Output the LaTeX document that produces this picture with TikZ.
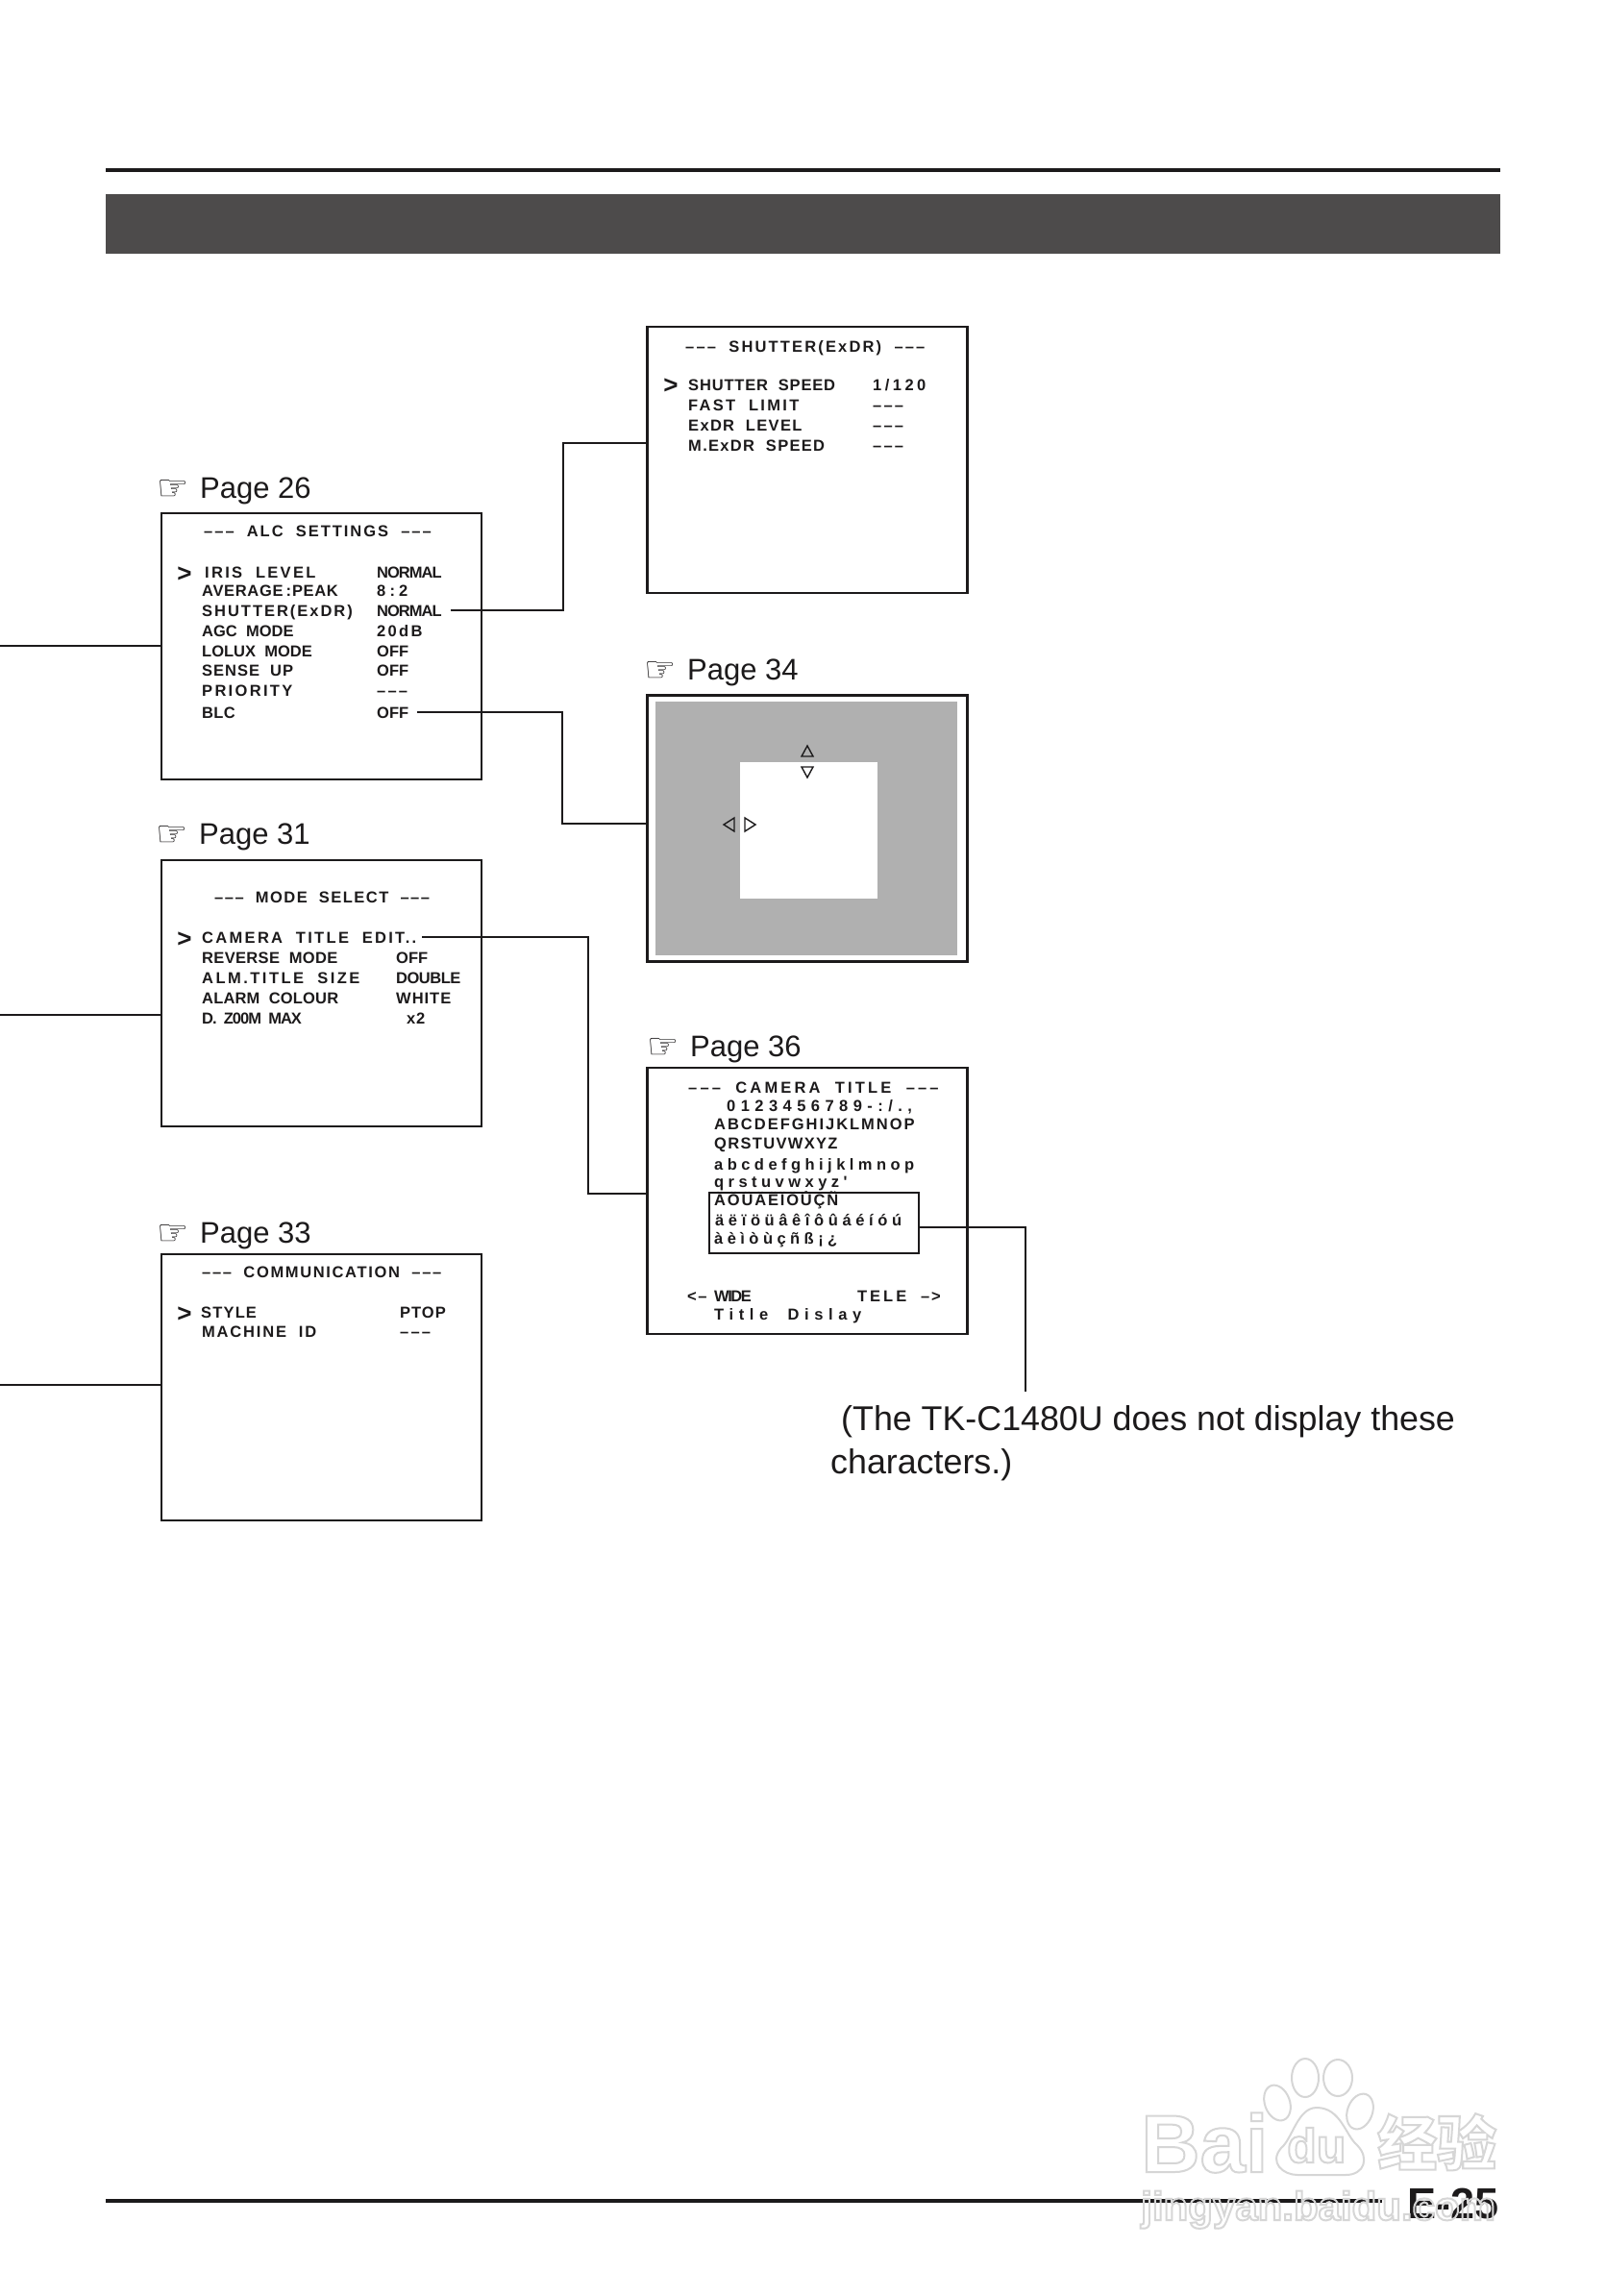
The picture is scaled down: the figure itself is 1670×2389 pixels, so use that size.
\documentclass[tikz,border=0pt]{standalone}
\usepackage{fontspec}
\usepackage{xcolor}
\usetikzlibrary{positioning}
\setmainfont{Liberation Sans}
\newfontfamily\menufont[WordSpace=2,LetterSpace=13]{Liberation Sans Bold}
\newfontfamily\handfont{DejaVu Sans}
\newfontfamily\cjkfont{Noto Sans CJK SC}
\definecolor{cBand}{RGB}{77,75,75}
\definecolor{cRule}{RGB}{28,26,27}
\definecolor{cPanel}{RGB}{176,176,176}
\definecolor{cMark}{RGB}{214,214,214}
\newcommand{\outlined}[1]{\special{pdf:code 1 Tr 2 w}#1\special{pdf:code 0 Tr}}
\tikzset{
  screenbox/.style={rectangle, draw=cRule, line width=2.2pt, inner sep=0pt,
                    minimum width=333pt, minimum height=277pt},
  wire/.style={draw=cRule, line width=1.7pt},
  tribox/.style={draw=cRule, line width=1.4pt, line join=miter},
  row/.style={anchor=base west, inner sep=0pt, text height=12pt, text depth=0pt,
              text=cRule, font=\fontsize{16.5}{18}\menufont\addfontfeature{LetterSpace=#1}},
  row/.default=13,
  cursor/.style={anchor=base, inner sep=0pt, text=cRule,
                 font=\fontsize{26}{28}\menufont},
  pagelabel/.style={anchor=base west, inner sep=0pt, text=cRule,
                    font=\fontsize{31}{34}\selectfont},
  handicon/.style={anchor=base west, inner sep=0pt, text=cRule,
                   font=\fontsize{37}{39}\handfont},
  notetext/.style={anchor=base west, inner sep=0pt, text=cRule,
                   font=\fontsize{35.8}{40}\selectfont},
  marktext/.style={anchor=base west, inner sep=0pt, text=cMark},
  markline/.style={draw=cMark, line width=2pt}
}
\begin{document}
\begin{tikzpicture}[x=1pt,y=-1pt]
  \useasboundingbox (0,0) rectangle (1670,2389);
  \fill[white] (0,0) rectangle (1670,2389);

  % Page header and footer
  \fill[cRule] (110,175) rectangle (1561,179);
  \fill[cBand] (110,202) rectangle (1561,264);
  \fill[cRule] (110,2288) rectangle (1438,2292);
  \node[anchor=base west, inner sep=0pt, text=cRule,
        font=\fontsize{45}{48}\bfseries] (pagenum) at (1464,2308) {E-25};

  % Screens
  \node[screenbox] (alc) at (334.5,672.5) {};
  \node[screenbox] (mode) at (334.5,1033.5) {};
  \node[screenbox] (comm) at (334.5,1443.5) {};
  \node[screenbox] (shutter) at (840,478.5) {};
  \node[screenbox] (center) at (840,862) {};
  \node[screenbox] (title) at (840,1249.5) {};

  % Page labels
  \node[handicon] (handA) at (163,520) {☞};
  \node[pagelabel] (pageA) at (208,518) {Page 26};
  \node[handicon] (handB) at (162,880) {☞};
  \node[pagelabel] (pageB) at (207,878) {Page 31};
  \node[handicon] (handC) at (163,1295) {☞};
  \node[pagelabel] (pageC) at (208,1293) {Page 33};
  \node[handicon] (handD) at (670,709) {☞};
  \node[pagelabel] (pageD) at (715,707) {Page 34};
  \node[handicon] (handE) at (673,1101) {☞};
  \node[pagelabel] (pageE) at (718,1099) {Page 36};

  % ALC settings
  \node[row=12] (alcHead) at (212,558) {––– ALC SETTINGS –––};
  \node[cursor] (alcCur) at (192,605) {>};
  \node[row=14] (alcA) at (213,601) {IRIS LEVEL};
  \node[row=4] (alcB) at (210,620) {AVERAGE\kern3pt:\kern1pt PEAK};
  \node[row=12] (alcC) at (210,641) {SHUTTER(ExDR)};
  \node[row=0] (alcD) at (210,662) {AGC MODE};
  \node[row=0] (alcE) at (210,683) {LOLUX MODE};
  \node[row=6] (alcF) at (210,703) {SENSE UP};
  \node[row=14] (alcG) at (210,724) {PRIORITY};
  \node[row=2] (alcH) at (210,747) {BLC};
  \node[row=-6] (alcValA) at (392,601) {NORMAL};
  \node[row=25] (alcValB) at (392,620) {8:2};
  \node[row=-6] (alcValC) at (392,641) {NORMAL};
  \node[row=14] (alcValD) at (392,662) {20dB};
  \node[row=0] (alcValE) at (392,683) {OFF};
  \node[row=0] (alcValF) at (392,703) {OFF};
  \node[row] (alcValG) at (392,724) {–––};
  \node[row=0] (alcValH) at (392,747) {OFF};

  % Mode select
  \node[row=9] (modeHead) at (223,939) {––– MODE SELECT –––};
  \node[cursor] (modeCur) at (192,985) {>};
  \node[row=14] (modeA) at (210,981) {CAMERA TITLE EDIT..};
  \node[row=2] (modeB) at (210,1002) {REVERSE MODE};
  \node[row=15] (modeC) at (210,1023) {ALM.TITLE SIZE};
  \node[row=1] (modeD) at (210,1044) {ALARM COLOUR};
  \node[row=-6] (modeE) at (210,1065) {D. Z00M MAX};
  \node[row=0] (modeValB) at (412,1002) {OFF};
  \node[row=-3] (modeValC) at (412,1023) {DOUBLE};
  \node[row=6] (modeValD) at (412,1044) {WHITE};
  \node[row=5] (modeValE) at (423,1065) {x2};

  % Communication
  \node[row=10] (commHead) at (210,1329) {––– COMMUNICATION –––};
  \node[cursor] (commCur) at (192,1375) {>};
  \node[row=7] (commA) at (209,1371) {STYLE};
  \node[row=11] (commB) at (210,1391) {MACHINE ID};
  \node[row=6] (commValA) at (416,1371) {PTOP};
  \node[row] (commValB) at (416,1391) {–––};

  % Shutter
  \node[row=13] (shutHead) at (713,366) {––– SHUTTER(ExDR) –––};
  \node[cursor] (shutCur) at (698,409) {>};
  \node[row=5] (shutA) at (716,406) {SHUTTER SPEED};
  \node[row=14] (shutB) at (716,427) {FAST LIMIT};
  \node[row=8] (shutC) at (716,448) {ExDR LEVEL};
  \node[row=8] (shutD) at (716,469) {M.ExDR SPEED};
  \node[row=21] (shutValA) at (908,406) {1/120};
  \node[row] (shutValB) at (908,427) {–––};
  \node[row] (shutValC) at (908,448) {–––};
  \node[row] (shutValD) at (908,469) {–––};

  % Centre window
  \fill[cPanel] (682,730) rectangle (996,994);
  \fill[white] (770,793) rectangle (913,935);
  \draw[tribox] (834,787) -- (840,776) -- (846,787) -- cycle;
  \draw[tribox] (834,798) -- (840,809) -- (846,798) -- cycle;
  \draw[tribox] (764,851) -- (753,858) -- (764,865) -- cycle;
  \draw[tribox] (775,851) -- (786,858) -- (775,865) -- cycle;

  % Camera title
  \node[row=19] (titleHead) at (716,1137) {––– CAMERA TITLE –––};
  \node[row=33] (titleA) at (756,1156) {0123456789-:/.,};
  \node[row=12] (titleB) at (743,1175) {ABCDEFGHIJKLMNOP};
  \node[row=8] (titleC) at (743,1195) {QRSTUVWXYZ};
  \node[row=27] (titleD) at (743,1217) {abcdefghijklmnop};
  \node[row=27] (titleE) at (743,1235) {qrstuvwxyz'};
  \node[draw=cRule, line width=1.5pt, inner sep=0pt, minimum width=218pt,
        minimum height=63pt] (accents) at (847,1272.5) {};
  \node[row=11] (titleF) at (743,1254) {ÄÖÜÄËÏÖÛÇÑ};
  \node[row=28] (titleG) at (744,1275) {äëïöüâêîôûáéíóú};
  \node[row=27] (titleH) at (743,1294) {àèìòùçñß¡¿};
  \node[row=10] (titleI) at (715,1354) {<–};
  \node[row=-9] (titleM) at (743,1354) {WIDE};
  \node[row=18] (titleJ) at (892,1354) {TELE};
  \node[row=10] (titleK) at (958,1354) {–>};
  \node[row=34] (titleL) at (743,1373) {Title Dislay};

  % Note
  \node[notetext] (noteA) at (875,1488) {(The TK-C1480U does not display these};
  \node[notetext] (noteB) at (864,1533) {characters.)};

  % Connectors
  \coordinate (inA) at (0,672);
  \coordinate (inB) at (0,1056);
  \coordinate (inC) at (0,1441);
  \coordinate (jogA) at (586,461);
  \coordinate (jogB) at (585,857);
  \coordinate (jogC) at (612,1242);
  \coordinate (jogD) at (1067,1277);
  \coordinate (noteEnd) at (1067,1448);
  \draw[wire] (inA) -- (alc.west |- inA);
  \draw[wire] (inB) -- (mode.west |- inB);
  \draw[wire] (inC) -- (comm.west |- inC);
  \draw[wire] ([xshift=9pt]alcValC.east) -| (jogA) -- (shutter.west |- jogA);
  \draw[wire] ([xshift=9pt]alcValH.east) -| (jogB) -- (center.west |- jogB);
  \draw[wire] ([xshift=6pt]modeA.east) -| (jogC) -- (title.west |- jogC);
  \draw[wire] (accents.east |- jogD) -- (jogD) -- (noteEnd);

  % Watermark
  \node[marktext, font=\fontsize{85}{88}\bfseries] (markA) at (1187,2260) {\outlined{Bai}};
  \node[marktext, font=\fontsize{50}{52}\bfseries] (markB) at (1339,2250) {\outlined{du}};
  \node[marktext, font=\fontsize{62}{66}\cjkfont\bfseries] (markC) at (1433,2253) {\outlined{经验}};
  \node[marktext, font=\fontsize{42}{44}\bfseries] (markD) at (1187,2310) {\outlined{jingyan.baidu.com}};
  \draw[markline] (1329,2188) ellipse [x radius=13, y radius=19, rotate=20];
  \draw[markline] (1358,2162) ellipse [x radius=14, y radius=20];
  \draw[markline] (1392,2162) ellipse [x radius=15, y radius=19];
  \draw[markline] (1415,2197) ellipse [x radius=13, y radius=19, rotate=-20];
  \draw[markline] (1370,2193) .. controls (1350,2193) and (1345,2225) .. (1333,2235)
      .. controls (1320,2250) and (1335,2263) .. (1350,2263) -- (1400,2263)
      .. controls (1420,2263) and (1425,2245) .. (1412,2232)
      .. controls (1400,2222) and (1395,2193) .. (1370,2193) -- cycle;
\end{tikzpicture}
\end{document}
